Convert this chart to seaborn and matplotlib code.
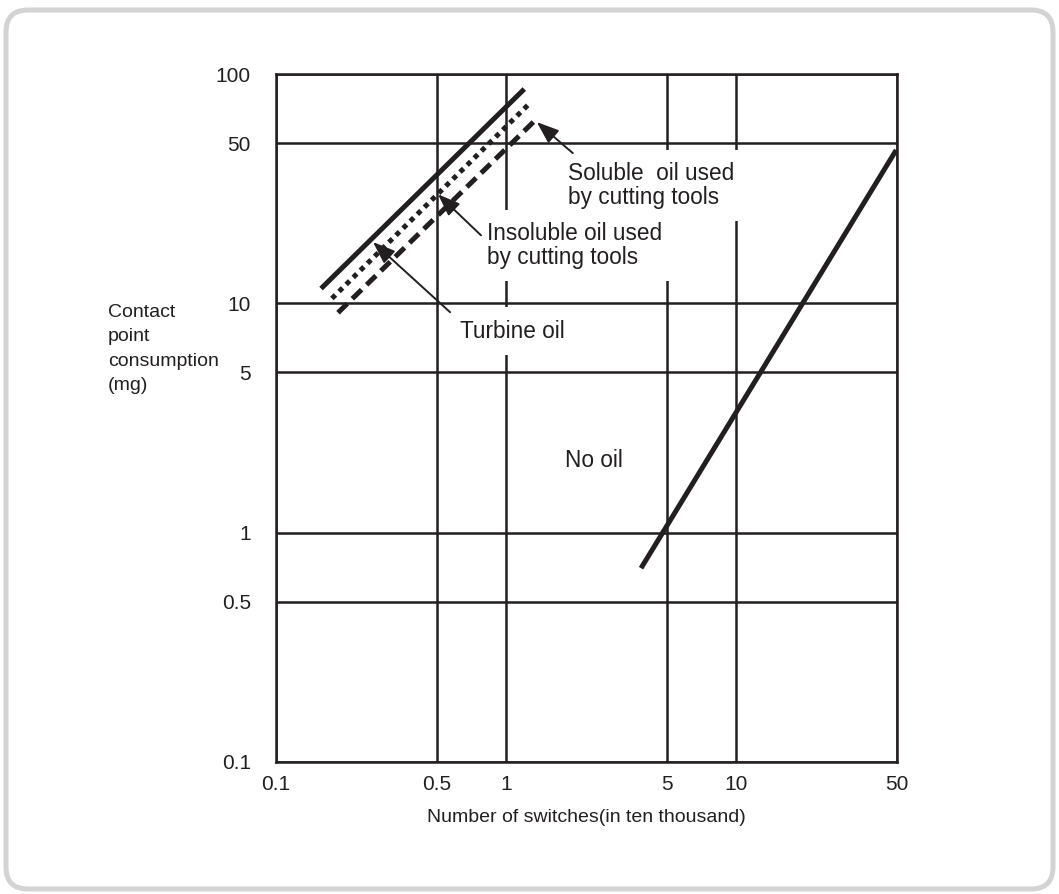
import matplotlib.pyplot as plt
import numpy as np
import pandas as pd
import seaborn as sns
from matplotlib.patches import FancyBboxPatch

# --- Data (log-log, x in ten thousand switches, y in mg) ---
turbine_x = [0.157, 1.20]
turbine_y = [11.6, 86.0]

insoluble_x = [0.175, 1.27]
insoluble_y = [10.5, 74.7]

soluble_x = [0.186, 1.37]
soluble_y = [9.1, 64.3]

no_oil_x = [3.86, 49.6]
no_oil_y = [0.70, 46.6]

x_ticks = [0.1, 0.5, 1, 5, 10, 50]
x_tick_labels = ["0.1", "0.5", "1", "5", "10", "50"]
y_ticks = [0.1, 0.5, 1, 5, 10, 50, 100]
y_tick_labels = ["0.1", "0.5", "1", "5", "10", "50", "100"]

INK = "#231f20"

sns.set_theme(style="white")
plt.rcParams["font.family"] = ["Liberation Sans", "DejaVu Sans"]

fig = plt.figure(figsize=(10.59, 8.94), dpi=100)
ax = fig.add_axes([0.2606, 0.1477, 0.5864, 0.7695])

# --- Lines ---
lines = [
    (turbine_x, turbine_y, "-"),
    (insoluble_x, insoluble_y, (0, (1, 1))),
    (soluble_x, soluble_y, (0, (2.6, 1.4))),
    (no_oil_x, no_oil_y, "-"),
]
for xs, ys, ls in lines:
    df = pd.DataFrame({"x": xs, "y": ys})
    sns.lineplot(data=df, x="x", y="y", ax=ax, color=INK, lw=3.6,
                 linestyle=ls, zorder=5)
for ln in ax.get_lines():
    ln.set_solid_capstyle("butt")
    ln.set_dash_capstyle("butt")

# --- Axes ---
ax.set_xscale("log")
ax.set_yscale("log")
ax.set_xlim(0.1, 50)
ax.set_ylim(0.1, 100)
ax.set_xticks(x_ticks)
ax.set_xticklabels(x_tick_labels)
ax.set_yticks(y_ticks)
ax.set_yticklabels(y_tick_labels)
ax.minorticks_off()
ax.tick_params(length=0, labelsize=15, colors=INK)
ax.tick_params(axis="x", pad=9.5)
ax.tick_params(axis="y", pad=18)
ax.set_xlabel("")
ax.set_ylabel("")
ax.set_axisbelow(True)
ax.grid(True, color=INK, lw=1.8)
for sp in ax.spines.values():
    sp.set_color(INK)
    sp.set_linewidth(1.8)

# --- Labels ---
box = dict(boxstyle="square,pad=0.55", fc="white", ec="none")
ax.text(0.631, 7.55, "Turbine oil", fontsize=16.3, color=INK,
        ha="left", va="center", bbox=box, zorder=3)
ax.text(0.826, 17.9, "Insoluble oil used\nby cutting tools", fontsize=16.3,
        color=INK, ha="left", va="center", linespacing=1.04, bbox=box, zorder=3)
ax.text(1.86, 32.7, "Soluble  oil used\nby cutting tools", fontsize=16.3,
        color=INK, ha="left", va="center", linespacing=1.04, bbox=box, zorder=3)
ax.text(1.81, 2.06, "No oil", fontsize=16.3, color=INK, ha="left", va="center")

arrow = dict(arrowstyle="-|>,head_length=0.8,head_width=0.3", color=INK,
             lw=1.4, shrinkA=0, shrinkB=0, mutation_scale=17)
ax.annotate("", xy=(0.264, 18.5), xytext=(0.571, 9.15), arrowprops=arrow, zorder=6)
ax.annotate("", xy=(0.506, 29.9), xytext=(0.778, 19.8), arrowprops=arrow, zorder=6)
ax.annotate("", xy=(1.36, 61.7), xytext=(1.95, 45.2), arrowprops=arrow, zorder=6)

fig.text(586 / 1059, 1 - 818 / 894, "Number of switches(in ten thousand)",
         fontsize=14, color=INK, ha="center", va="center")
fig.text(219 / 1059, 1 - 349 / 894, "Contact\npoint\nconsumption\n(mg)",
         fontsize=14, color=INK, ha="right", va="center",
         multialignment="left", linespacing=1.54)

# --- Rounded frame ---
frame = FancyBboxPatch((0.06, 0.05), 10.47, 8.79,
                       boxstyle="round,pad=0,rounding_size=0.22",
                       transform=fig.dpi_scale_trans, fc="none",
                       ec="#d3d3d3", lw=3.6)
fig.patches.append(frame)

fig.savefig("out.png", dpi=100)
